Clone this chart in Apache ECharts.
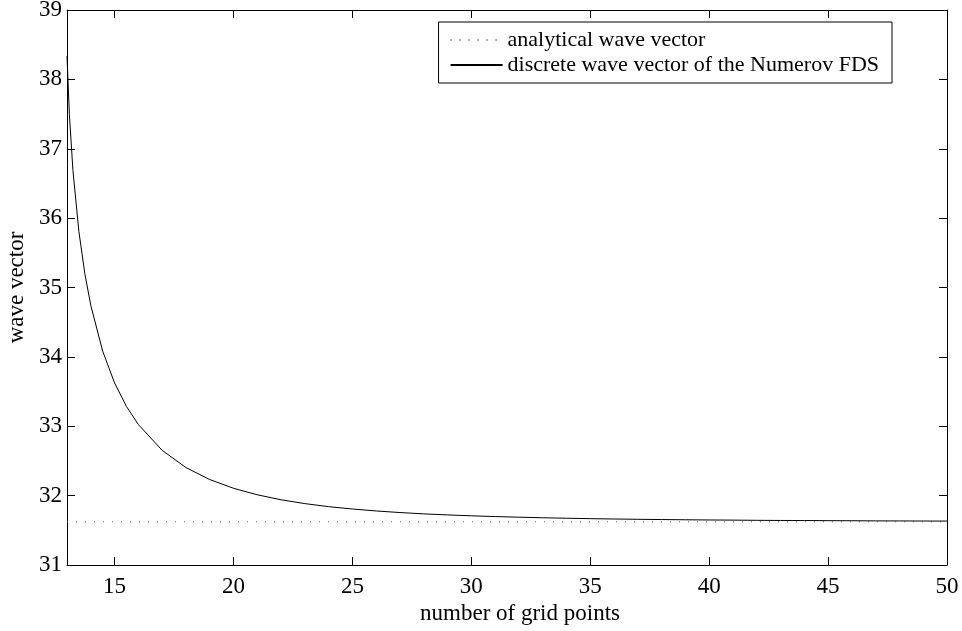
<!DOCTYPE html>
<html>
<head>
<meta charset="utf-8">
<script src="https://cdn.jsdelivr.net/npm/echarts@6/dist/echarts.min.js"></script>
<style>
html,body{margin:0;padding:0;background:#fff;}
#chart{width:962px;height:631px;}
</style>
</head>
<body>
<div id="chart"></div>
<script>
// number of grid points (x) and discrete Numerov wave vector (y)
var gridPoints = [13, 13.1, 13.25, 13.5, 13.75, 14, 14.5, 15, 15.5, 16, 17, 18, 19, 20, 21, 22, 23, 24, 25, 26, 27, 28, 29, 30, 31, 32, 33, 34, 35, 36, 37, 38, 39, 40, 41, 42, 43, 44, 45, 46, 47, 48, 49, 50];
var discreteK = [38.337, 37.495, 36.685, 35.806, 35.199, 34.742, 34.083, 33.624, 33.285, 33.025, 32.653, 32.405, 32.232, 32.106, 32.012, 31.940, 31.885, 31.841, 31.807, 31.779, 31.756, 31.737, 31.722, 31.709, 31.698, 31.689, 31.681, 31.674, 31.668, 31.663, 31.659, 31.655, 31.652, 31.649, 31.647, 31.644, 31.642, 31.641, 31.639, 31.638, 31.636, 31.635, 31.634, 31.633];
// analytical wave vector (constant)
var analyticalX = [13, 50];
var analyticalK = [31.623, 31.623];

var seriesNames = ['analytical wave vector', 'discrete wave vector of the Numerov FDS'];
var xRange = [13, 50];
var yRange = [31, 39];

var FONT = 'Liberation Serif';
var chart = echarts.init(document.getElementById('chart'), null, {renderer: 'canvas'});

function pairs(xs, ys) {
  var out = [];
  for (var i = 0; i < xs.length; i++) out.push([xs[i], ys[i]]);
  return out;
}

var baseX = {
  type: 'value', min: xRange[0], max: xRange[1],
  splitNumber: 8, minInterval: 5, maxInterval: 5,
  axisLine: {show: true, onZero: false, lineStyle: {color: '#000', width: 1}},
  axisTick: {show: true, inside: true, length: 8, lineStyle: {color: '#000', width: 1}},
  splitLine: {show: false}
};
var baseY = {
  type: 'value', min: yRange[0], max: yRange[1], interval: 1,
  axisLine: {show: true, onZero: false, lineStyle: {color: '#000', width: 1}},
  axisTick: {show: true, inside: true, length: 8, lineStyle: {color: '#000', width: 1}},
  splitLine: {show: false}
};

chart.setOption({
  animation: false,
  backgroundColor: '#fff',
  textStyle: {fontFamily: FONT},
  grid: {left: 67, right: 15, top: 10, bottom: 66, containLabel: false, outerBoundsMode: 'none'},
  legend: {
    orient: 'vertical',
    right: 70, top: 22,
    padding: [7, 13, 7, 11],
    itemGap: 3,
    itemWidth: 52,
    itemHeight: 14,
    borderColor: '#000', borderWidth: 1, borderRadius: 0,
    backgroundColor: '#fff',
    itemStyle: {opacity: 0},
    textStyle: {fontFamily: FONT, fontSize: 22, color: '#000'},
    data: [seriesNames[0], seriesNames[1]]
  },
  xAxis: [
    Object.assign({}, baseX, {
      position: 'bottom',
      name: 'number of grid points',
      nameLocation: 'middle', nameGap: 32,
      nameTextStyle: {fontFamily: FONT, fontSize: 23, color: '#000', padding: [0, 0, 0, 26]},
      axisLabel: {show: true, showMinLabel: false, margin: 10, fontFamily: FONT, fontSize: 23, color: '#000'}
    }),
    Object.assign({}, baseX, {position: 'top', axisLabel: {show: false}})
  ],
  yAxis: [
    Object.assign({}, baseY, {
      position: 'left',
      name: 'wave vector',
      nameLocation: 'middle', nameGap: 35, nameRotate: 90,
      nameTextStyle: {fontFamily: FONT, fontSize: 23, color: '#000'},
      axisLabel: {show: true, margin: 5, fontFamily: FONT, fontSize: 23, color: '#000'}
    }),
    Object.assign({}, baseY, {position: 'right', axisLabel: {show: false}})
  ],
  series: [
    {
      name: seriesNames[0], type: 'line', xAxisIndex: 0, yAxisIndex: 0,
      data: pairs(analyticalX, analyticalK),
      symbol: 'none', smooth: false,
      lineStyle: {color: '#666', width: 1, type: [1, 8]},
      itemStyle: {color: '#666'}
    },
    {
      name: seriesNames[1], type: 'line', xAxisIndex: 0, yAxisIndex: 0,
      data: pairs(gridPoints, discreteK),
      symbol: 'none', smooth: false,
      lineStyle: {color: '#000', width: 1},
      itemStyle: {color: '#000'}
    }
  ]
});
</script>
</body>
</html>
